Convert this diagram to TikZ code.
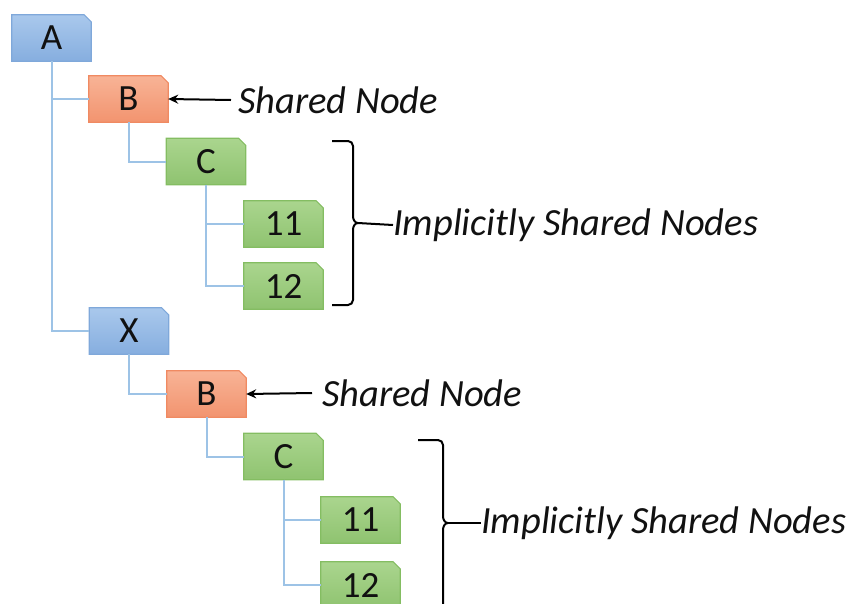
\documentclass[tikz,border=0pt]{standalone}
\usepackage{fontspec}
\setmainfont{Carlito}
\usetikzlibrary{arrows.meta,backgrounds}
\definecolor{bluetop}{HTML}{A9C8EC}
\definecolor{bluebot}{HTML}{86AEDF}
\definecolor{blueedge}{HTML}{7FA8DA}
\definecolor{orgtop}{HTML}{F8B396}
\definecolor{orgbot}{HTML}{F2946F}
\definecolor{orgedge}{HTML}{F08A62}
\definecolor{grntop}{HTML}{AAD58E}
\definecolor{grnbot}{HTML}{8FC370}
\definecolor{grnedge}{HTML}{84BD62}
\definecolor{linkc}{HTML}{9DC3E6}
\definecolor{txt}{HTML}{111111}
\tikzset{
  box/.style={rectangle, minimum width=79pt, minimum height=46pt,
    inner sep=0pt, text=txt, font=\fontsize{37}{42}\selectfont},
  shp/.style={line width=1.2pt},
  blueshp/.style={shp, draw=blueedge, top color=bluetop, bottom color=bluebot},
  orgshp/.style={shp, draw=orgedge, top color=orgtop, bottom color=orgbot},
  grnshp/.style={shp, draw=grnedge, top color=grntop, bottom color=grnbot},
  link/.style={draw=linkc, line width=2pt},
  note/.style={anchor=west, inner sep=0pt, text=txt, font=\fontsize{38.5}{44}\selectfont\itshape},
  ptr/.style={-{Stealth[length=10pt,width=9pt]}, line width=2pt, black},
  brace/.style={line width=2pt, black}
}
\newcommand{\chbox}[2]{%
  \path[#2] (#1.south west) -- (#1.north west) -- ([xshift=-7pt]#1.north east)
    -- ([yshift=-7pt]#1.north east) -- (#1.south east) -- cycle;}
\begin{document}
\begin{tikzpicture}[x=1pt,y=-1pt]
\useasboundingbox (0,0) rectangle (848,603);
\clip (0,0) rectangle (848,603);
% nodes
\node[box] (A)   at (51.5,38)   {A};
\node[box] (B1)  at (128.5,99)  {B};
\node[box] (C1)  at (206,161.5) {C};
\node[box] (E1)  at (283.5,224) {11};
\node[box] (F1)  at (283.5,286) {12};
\node[box] (X)   at (129,331)   {X};
\node[box] (B2)  at (206.5,394) {B};
\node[box] (C2)  at (283.5,456.5) {C};
\node[box] (E2)  at (360.5,520) {11};
\node[box] (F2)  at (360.5,585) {12};
\begin{scope}[on background layer]
\chbox{A}{blueshp}
\chbox{X}{blueshp}
\chbox{B1}{orgshp}
\chbox{B2}{orgshp}
\chbox{C1}{grnshp}
\chbox{E1}{grnshp}
\chbox{F1}{grnshp}
\chbox{C2}{grnshp}
\chbox{E2}{grnshp}
\chbox{F2}{grnshp}
% connectors
\draw[link] (A.south)  |- (B1.west);
\draw[link] (A.south)  |- (X.west);
\draw[link] (B1.south) |- (C1.west);
\draw[link] (C1.south) |- (E1.west);
\draw[link] (C1.south) |- (F1.west);
\draw[link] (X.south)  |- (B2.west);
\draw[link] (B2.south) |- (C2.west);
\draw[link] (C2.south) |- (E2.west);
\draw[link] (C2.south) |- (F2.west);
\end{scope}
% shared node labels
\node[note] (S1) at (238,100) {Shared Node};
\node[note] (S2) at (322,393) {Shared Node};
\draw[ptr] ([xshift=-7pt]S1.west) -- (B1.east);
\draw[ptr] ([xshift=-10pt]S2.west) -- (B2.east);
% braces
\coordinate (T1) at (358,223);
\draw[brace] (332,141) -- (348,141) to[out=0,in=90] (353,146) -- (353,216)
  to[out=-90,in=180] (T1) to[out=180,in=90] (353,230) -- (353,300)
  to[out=-90,in=0] (348,305) -- (332,305);
\node[note] (I1) at (393,225) {Implicitly Shared Nodes};
\draw[brace] (T1) -- (I1.west);
\coordinate (T2) at (448,523);
\draw[brace] (418,440) -- (438,440) to[out=0,in=90] (443,445) -- (443,516)
  to[out=-90,in=180] (T2) to[out=180,in=90] (443,530) -- (443,640);
\node[note] (I2) at (481,523) {Implicitly Shared Nodes};
\draw[brace] (T2) -- (I2.west);
\end{tikzpicture}
\end{document}
